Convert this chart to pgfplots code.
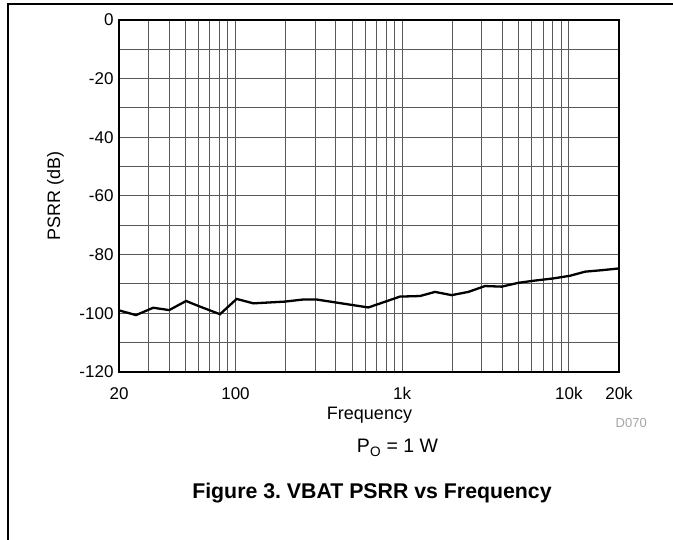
\documentclass[border=0pt]{standalone}
\usepackage{pgfplots}
\pgfplotsset{compat=1.18}
\usepackage{fontspec}
\setmainfont{Liberation Sans}
\definecolor{gridc}{gray}{0.35}
\frenchspacing
\begin{document}
\begin{tikzpicture}
\useasboundingbox (0pt,0pt) rectangle (673pt,540pt);
\draw[line width=1.3pt] (8pt,0pt) -- (8pt,536pt) -- (673pt,536pt);
\begin{axis}[
  at={(119pt,168pt)}, anchor=south west,
  scale only axis, width=500pt, height=352pt,
  xmode=log, xmin=20, xmax=20000, ymin=-120, ymax=0,
  xtick={20,100,1000,10000,20000},
  xticklabels={20,100,1k,10k,20k},
  minor xtick={30,40,50,60,70,80,90,200,300,400,500,600,700,800,900,2000,3000,4000,5000,6000,7000,8000,9000},
  ytick={-120,-100,-80,-60,-40,-20,0},
  yticklabels={-120,-100,-80,-60,-40,-20,0},
  minor ytick={-110,-90,-70,-50,-30,-10},
  grid=both,
  major grid style={gridc, line width=1pt},
  minor grid style={gridc, line width=1pt},
  major tick length=0pt, minor tick length=0pt,
  axis line style={line width=2.8pt, black},
  ticklabel style={font=\fontsize{17}{20}\selectfont},
  xticklabel style={anchor=base, yshift=-27.5pt},
  yticklabel style={anchor=east, xshift=-2pt},
  /pgf/number format/assume math mode=true,
]
\addplot[black, line width=2.3pt] coordinates {
(20,-99.0) (25.3,-100.6) (32.1,-98.1) (40,-98.9) (50.5,-95.8) (61.2,-97.7)
(80.7,-100.3) (101.6,-95.1) (128,-96.6) (198,-96.0) (254,-95.3) (307,-95.3)
(507,-97.2) (627,-98.0) (970,-94.3) (1280,-94.1) (1574,-92.7) (1982,-93.8)
(2494,-92.7) (3140,-90.7) (3953,-90.9) (4977,-89.6) (6124,-88.9) (8070,-88.1)
(10160,-87.2) (12500,-85.8) (15740,-85.3) (20000,-84.7)
};
\end{axis}
\node[rotate=90, anchor=base, font=\fontsize{18}{21}\selectfont, inner sep=0pt] at (60pt,344pt) {PSRR (dB)};
\node[anchor=base, font=\fontsize{18}{21}\selectfont, inner sep=0pt] at (369.5pt,120pt) {Frequency};
\node[anchor=base east, font=\fontsize{13}{15}\selectfont, text=gray!70, inner sep=0pt] at (647pt,112pt) {D070};
\node[anchor=base, font=\fontsize{19.5}{23}\selectfont, inner sep=0pt] at (397.5pt,87pt) {P\textsubscript{O} = 1 W};
\node[anchor=base, font=\fontsize{21.3}{25}\selectfont\bfseries, inner sep=0pt] at (372pt,41.5pt) {Figure 3. VBAT PSRR vs Frequency};
\end{tikzpicture}
\end{document}
